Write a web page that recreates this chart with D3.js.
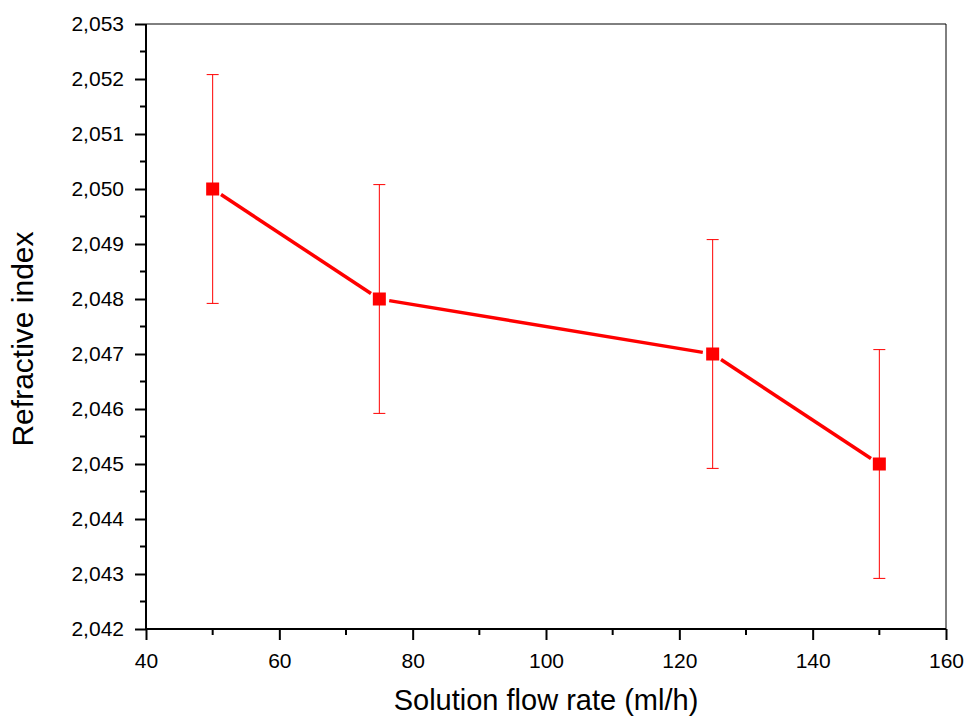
<!DOCTYPE html>
<html>
<head>
<meta charset="utf-8">
<script src="https://cdn.jsdelivr.net/npm/d3@7.9.0/dist/d3.min.js"></script>
<style>
  body { margin: 0; background: #fff; }
  svg { display: block; font-family: "Liberation Sans", Arial, sans-serif; }
</style>
</head>
<body>
<svg id="chart" width="968" height="722"></svg>
<script>
// flow rate (ml/h) vs refractive index
const flowRates = [50, 75, 125, 150];
const refIndex = [2.050, 2.048, 2.047, 2.045];
const errors = [0.00208, 0.00208, 0.00208, 0.00208];
const xTicks = [40, 60, 80, 100, 120, 140, 160];
const yTicks = [2.042, 2.043, 2.044, 2.045, 2.046, 2.047, 2.048, 2.049, 2.050, 2.051, 2.052, 2.053];

const margin = { left: 146, top: 24, right: 22, bottom: 93 };
const width = 968, height = 722;

const svg = d3.select('#chart');

const x = d3.scaleLinear().domain([40, 160]).range([margin.left, width - margin.right]);
const y = d3.scaleLinear().domain([2.042, 2.053]).range([height - margin.bottom, margin.top]);

const commaFmt = (d) => d3.format('.3f')(d).replace('.', ',');

// frame: top and right thin
svg.append('line')
  .attr('x1', x(40)).attr('x2', x(160)).attr('y1', y(2.053)).attr('y2', y(2.053))
  .attr('stroke', '#000').attr('stroke-width', 1);
svg.append('line')
  .attr('x1', x(160)).attr('x2', x(160)).attr('y1', y(2.053)).attr('y2', y(2.042))
  .attr('stroke', '#000').attr('stroke-width', 1);

// minor ticks
const xMinor = d3.range(50, 160, 20);
const yMinor = d3.range(0, 11).map((i) => 2.0425 + i * 0.001);

const gx = svg.append('g').attr('transform', `translate(0,${y(2.042)})`);
gx.selectAll('.minor').data(xMinor).join('line')
  .attr('x1', (d) => x(d)).attr('x2', (d) => x(d)).attr('y1', 0).attr('y2', 6)
  .attr('stroke', '#000').attr('stroke-width', 2);
gx.call(d3.axisBottom(x).tickValues(xTicks).tickSize(11).tickPadding(13).tickFormat(d3.format('d')));

const gy = svg.append('g').attr('transform', `translate(${x(40)},0)`);
gy.selectAll('.minor').data(yMinor).join('line')
  .attr('x1', 0).attr('x2', -6).attr('y1', (d) => y(d)).attr('y2', (d) => y(d))
  .attr('stroke', '#000').attr('stroke-width', 2);
gy.call(d3.axisLeft(y).tickValues(yTicks).tickSize(11).tickPadding(11).tickFormat(commaFmt));

[gx, gy].forEach((g) => {
  g.select('.domain').attr('stroke', '#000').attr('stroke-width', 2);
  g.selectAll('.tick line').attr('stroke', '#000').attr('stroke-width', 2);
  g.selectAll('.tick text')
    .attr('fill', '#000')
    .style('font-size', '21px')
    .style('font-family', '"Liberation Sans", Arial, sans-serif');
});
gx.select('.domain').attr('d', `M${x(40)},0H${x(160)}`);
gy.select('.domain').attr('d', `M0,${y(2.042)}V${y(2.053)}`);

// error bars
const data = flowRates.map((f, i) => ({ x: f, y: refIndex[i], e: errors[i] }));
const capW = 12;
const eb = svg.append('g').attr('stroke', '#ff0000').attr('stroke-width', 1);
data.forEach((d) => {
  eb.append('line')
    .attr('x1', x(d.x)).attr('x2', x(d.x)).attr('y1', y(d.y + d.e)).attr('y2', y(d.y - d.e));
  eb.append('line')
    .attr('x1', x(d.x) - capW / 2).attr('x2', x(d.x) + capW / 2)
    .attr('y1', y(d.y + d.e)).attr('y2', y(d.y + d.e));
  eb.append('line')
    .attr('x1', x(d.x) - capW / 2).attr('x2', x(d.x) + capW / 2)
    .attr('y1', y(d.y - d.e)).attr('y2', y(d.y - d.e));
});

// line segments with small gap around markers
const gap = 10;
for (let i = 0; i < data.length - 1; i++) {
  const x1 = x(data[i].x), y1 = y(data[i].y), x2 = x(data[i + 1].x), y2 = y(data[i + 1].y);
  const len = Math.hypot(x2 - x1, y2 - y1);
  const ux = (x2 - x1) / len, uy = (y2 - y1) / len;
  svg.append('line')
    .attr('x1', x1 + ux * gap).attr('y1', y1 + uy * gap)
    .attr('x2', x2 - ux * gap).attr('y2', y2 - uy * gap)
    .attr('stroke', '#ff0000').attr('stroke-width', 3.5);
}

// markers
const ms = 13;
svg.selectAll('.marker').data(data).join('rect')
  .attr('x', (d) => x(d.x) - ms / 2).attr('y', (d) => y(d.y) - ms / 2)
  .attr('width', ms).attr('height', ms)
  .attr('fill', '#ff0000');

// axis titles
svg.append('text')
  .attr('x', (x(40) + x(160)) / 2).attr('y', 710)
  .attr('text-anchor', 'middle')
  .style('font-size', '29px')
  .text('Solution flow rate (ml/h)');

svg.append('text')
  .attr('transform', `translate(33,339) rotate(-90)`)
  .attr('text-anchor', 'middle')
  .style('font-size', '30px')
  .text('Refractive index');
</script>
</body>
</html>
